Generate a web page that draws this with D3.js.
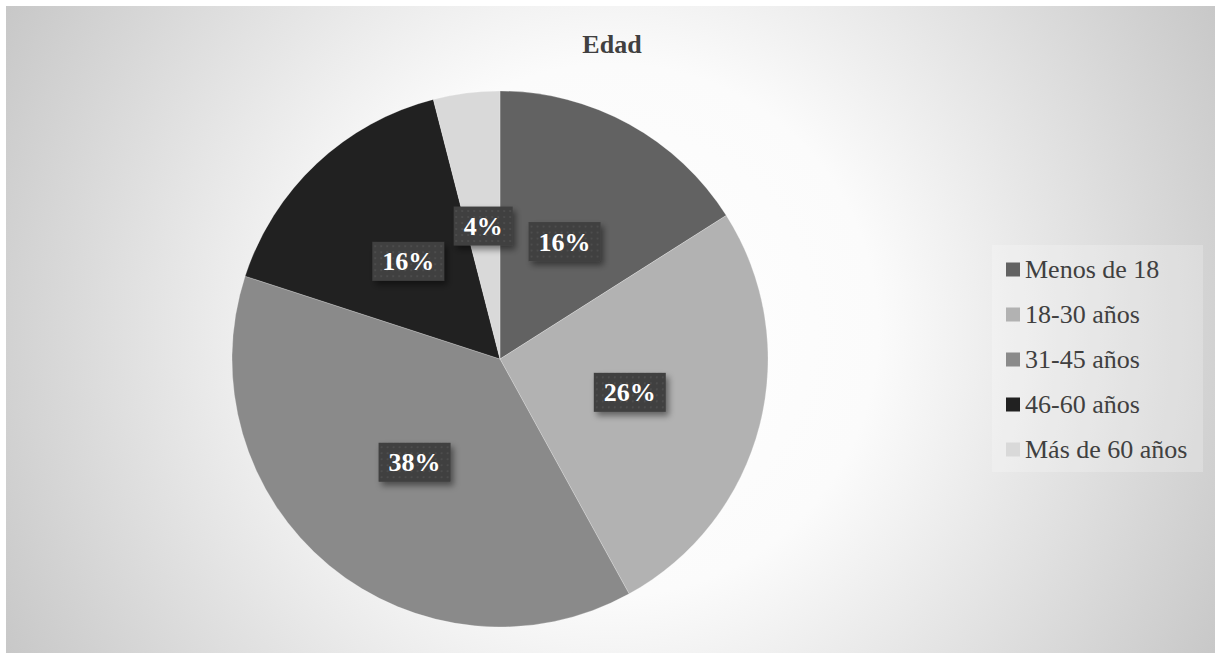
<!DOCTYPE html>
<html>
<head>
<meta charset="utf-8">
<script src="https://cdn.jsdelivr.net/npm/d3@7"></script>
<style>
  body { margin: 0; background: #fff; }
  svg { display: block; }
  text { font-family: "Liberation Serif", "DejaVu Serif", "Times New Roman", serif; }
</style>
</head>
<body>
<script>
// data
var categories = ["Menos de 18", "18-30 años", "31-45 años", "46-60 años", "Más de 60 años"];
var values = [16, 26, 38, 16, 4];
var colors = ["#626262", "#b2b2b2", "#8a8a8a", "#212121", "#d9d9d9"];
var title = "Edad";

var w = 1215, h = 653;
var cx = 500, cy = 359, r = 268;

var svg = d3.select("body").append("svg").attr("width", w).attr("height", h);
var defs = svg.append("defs");

// background gradient (white in the middle, grey in the corners)
var grad = defs.append("radialGradient").attr("id", "bg")
  .attr("gradientUnits", "userSpaceOnUse")
  .attr("cx", 612).attr("cy", 330).attr("r", 700);
grad.append("stop").attr("offset", "0").attr("stop-color", "#ffffff");
grad.append("stop").attr("offset", "0.38").attr("stop-color", "#fbfbfb");
grad.append("stop").attr("offset", "1").attr("stop-color", "#c6c6c6");

// dotted fill for the data labels
var pat = defs.append("pattern").attr("id", "dots")
  .attr("patternUnits", "userSpaceOnUse").attr("width", 6).attr("height", 6);
pat.append("rect").attr("width", 6).attr("height", 6).attr("fill", "#3f3f3f");
pat.append("rect").attr("x", 2).attr("y", 2).attr("width", 2).attr("height", 2).attr("fill", "#4d4d4d");

var shadow = defs.append("filter").attr("id", "shadow")
  .attr("x", "-30%").attr("y", "-30%").attr("width", "160%").attr("height", "160%");
shadow.append("feDropShadow").attr("dx", 3).attr("dy", 4).attr("stdDeviation", 3)
  .attr("flood-color", "#000").attr("flood-opacity", 0.45);

svg.append("rect").attr("x", 6).attr("y", 6).attr("width", w - 6).attr("height", h - 6)
  .attr("fill", "url(#bg)");

// title
svg.append("text").attr("x", 612).attr("y", 53)
  .attr("text-anchor", "middle")
  .attr("font-weight", "bold").attr("font-size", 26).attr("fill", "#404040")
  .text(title);

// pie
var pie = d3.pie().sort(null).value(function(d) { return d; });
var arcs = pie(values);
var arc = d3.arc().innerRadius(0).outerRadius(r);
var labelArc = d3.arc().innerRadius(r * 0.5).outerRadius(r * 0.5);

var g = svg.append("g").attr("transform", "translate(" + cx + "," + cy + ")");

g.selectAll("path.slice").data(arcs).enter()
  .append("path")
  .attr("class", "slice")
  .attr("d", arc)
  .attr("fill", function(d, i) { return colors[i]; })
  .attr("stroke", "#ffffff").attr("stroke-width", 0.4).attr("stroke-opacity", 0.6);

// data labels
var lab = g.selectAll("g.label").data(arcs).enter()
  .append("g").attr("class", "label")
  .attr("transform", function(d) {
    var c = labelArc.centroid(d);
    return "translate(" + c[0] + "," + c[1] + ")";
  });

lab.append("text")
  .attr("text-anchor", "middle")
  .attr("y", 9)
  .attr("font-weight", "bold").attr("font-size", 26).attr("fill", "#ffffff")
  .text(function(d) { return d.data + "%"; });

lab.each(function() {
  var sel = d3.select(this);
  var bb = sel.select("text").node().getBBox();
  var bw = bb.width + 20;
  sel.insert("rect", "text")
    .attr("x", -bw / 2).attr("y", -19.5)
    .attr("width", bw).attr("height", 39)
    .attr("fill", "url(#dots)")
    .attr("filter", "url(#shadow)");
});

// legend
var legend = svg.append("g");
legend.append("rect").attr("x", 992).attr("y", 245).attr("width", 211).attr("height", 227)
  .attr("fill", "#ffffff").attr("fill-opacity", 0.22);

var yLeg = d3.scalePoint().domain(categories).range([269.5, 449.5]);

var item = legend.selectAll("g.item").data(categories).enter()
  .append("g").attr("class", "item")
  .attr("transform", function(d) { return "translate(1006," + yLeg(d) + ")"; });

item.append("rect").attr("x", 0).attr("y", -7).attr("width", 14).attr("height", 14)
  .attr("fill", function(d, i) { return colors[i]; });

item.append("text").attr("x", 19).attr("y", 8)
  .attr("font-size", 26).attr("fill", "#404040")
  .text(function(d) { return d; });
</script>
</body>
</html>
